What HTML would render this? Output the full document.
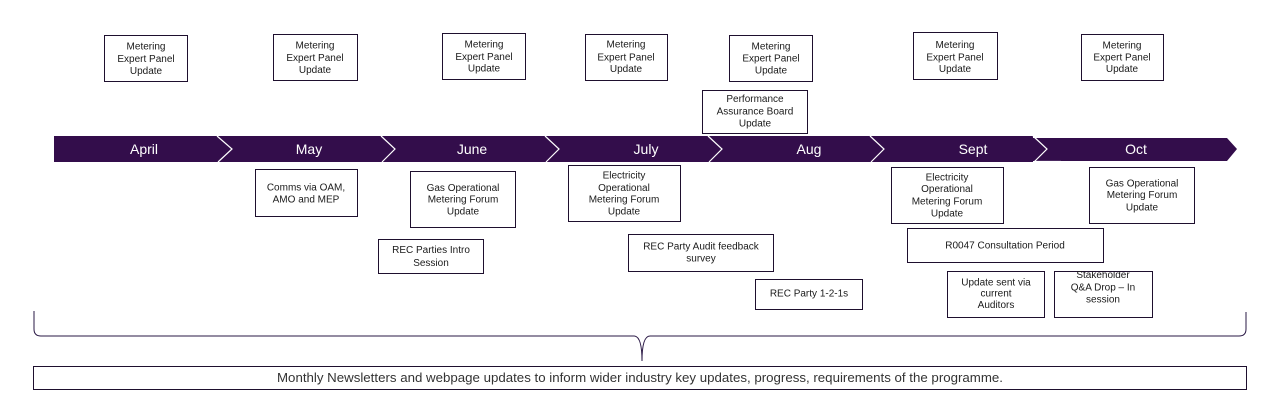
<!DOCTYPE html>
<html><head><meta charset="utf-8"><style>
html,body{margin:0;padding:0;background:#fff;}
svg{display:block;}
text{font-family:"Liberation Sans",sans-serif;}
.b{fill:#fff;stroke:#1e0f2e;stroke-width:1;}
.t{font-size:10px;fill:#1a1a1a;text-anchor:middle;}
.m{font-size:14px;fill:#fff;text-anchor:middle;}
</style></head><body>
<svg width="1265" height="411" viewBox="0 0 1265 411" xmlns="http://www.w3.org/2000/svg">
<!-- timeline bar -->
<polygon points="54,136 1033,136 1033,138 1227,138 1237,149 1227,161 1033,161 1033,162 54,162" fill="#330d4b"/>
<g fill="none" stroke="#fff" stroke-width="1.2">
<polyline points="217,136 232,149 218,162"/>
<polyline points="381,136 395,149 382,162"/>
<polyline points="545,136 559,149 546,162"/>
<polyline points="708,136 722,149 709,162"/>
<polyline points="870,136 884,149 871,162"/>
<polyline points="1033,136 1047,149 1034,162"/>
<line x1="1034" y1="161.5" x2="1061" y2="161.5"/>
</g>
<text class="m" x="144" y="154">April</text>
<text class="m" x="309" y="154">May</text>
<text class="m" x="472" y="154">June</text>
<text class="m" x="646" y="154">July</text>
<text class="m" x="809" y="154">Aug</text>
<text class="m" x="973" y="154">Sept</text>
<text class="m" x="1136" y="154">Oct</text>

<!-- top boxes -->
<rect class="b" x="104.5" y="35.5" width="83" height="46"/>
<text class="t" x="146" y="49.5">Metering</text><text class="t" x="146" y="62">Expert Panel</text><text class="t" x="146" y="74">Update</text>
<rect class="b" x="273.5" y="34.5" width="84" height="46"/>
<text class="t" x="315" y="48.5">Metering</text><text class="t" x="315" y="61">Expert Panel</text><text class="t" x="315" y="73">Update</text>
<rect class="b" x="442.5" y="33.5" width="83" height="46"/>
<text class="t" x="484" y="47.5">Metering</text><text class="t" x="484" y="60">Expert Panel</text><text class="t" x="484" y="71.5">Update</text>
<rect class="b" x="585.5" y="34.5" width="82" height="46"/>
<text class="t" x="626" y="47.5">Metering</text><text class="t" x="626" y="60.5">Expert Panel</text><text class="t" x="626" y="72">Update</text>
<rect class="b" x="729.5" y="35.5" width="83" height="46"/>
<text class="t" x="771" y="49.5">Metering</text><text class="t" x="771" y="61.5">Expert Panel</text><text class="t" x="771" y="73.5">Update</text>
<rect class="b" x="913.5" y="32.5" width="84" height="47"/>
<text class="t" x="955" y="48">Metering</text><text class="t" x="955" y="60.5">Expert Panel</text><text class="t" x="955" y="72">Update</text>
<rect class="b" x="1081.5" y="34.5" width="82" height="46"/>
<text class="t" x="1122" y="48.5">Metering</text><text class="t" x="1122" y="60.5">Expert Panel</text><text class="t" x="1122" y="72">Update</text>

<rect class="b" x="702.5" y="90.5" width="105" height="43"/>
<text class="t" x="755" y="102">Performance</text><text class="t" x="755" y="114.5">Assurance Board</text><text class="t" x="755" y="126.5">Update</text>

<!-- bottom boxes -->
<rect class="b" x="255.5" y="169.5" width="102" height="47"/>
<text class="t" x="306" y="190.5">Comms via OAM,</text><text class="t" x="306" y="202.5">AMO and MEP</text>

<rect class="b" x="410.5" y="171.5" width="105" height="56"/>
<text class="t" x="463" y="191">Gas Operational</text><text class="t" x="463" y="202.5">Metering Forum</text><text class="t" x="463" y="214.5">Update</text>

<rect class="b" x="378.5" y="239.5" width="105" height="34"/>
<text class="t" x="431" y="253">REC Parties Intro</text><text class="t" x="431" y="266">Session</text>

<rect class="b" x="568.5" y="165.5" width="112" height="56"/>
<text class="t" x="624" y="178.5">Electricity</text><text class="t" x="624" y="191">Operational</text><text class="t" x="624" y="202.5">Metering Forum</text><text class="t" x="624" y="214.5">Update</text>

<rect class="b" x="628.5" y="234.5" width="145" height="37"/>
<text class="t" x="701" y="249.5">REC Party Audit feedback</text><text class="t" x="701" y="261.5">survey</text>

<rect class="b" x="755.5" y="279.5" width="107" height="30"/>
<text class="t" x="809" y="296.5">REC Party 1-2-1s</text>

<rect class="b" x="891.5" y="167.5" width="112" height="56"/>
<text class="t" x="947" y="180.5">Electricity</text><text class="t" x="947" y="192">Operational</text><text class="t" x="947" y="204.5">Metering Forum</text><text class="t" x="947" y="216.5">Update</text>

<rect class="b" x="1089.5" y="167.5" width="105" height="56"/>
<text class="t" x="1142" y="186.5">Gas Operational</text><text class="t" x="1142" y="198">Metering Forum</text><text class="t" x="1142" y="210.5">Update</text>

<rect class="b" x="907.5" y="228.5" width="196" height="34"/>
<text class="t" x="1005" y="248.5">R0047 Consultation Period</text>

<rect class="b" x="947.5" y="271.5" width="97" height="46"/>
<text class="t" x="996" y="285.5">Update sent via</text><text class="t" x="996" y="296.5">current</text><text class="t" x="996" y="308">Auditors</text>

<rect class="b" x="1054.5" y="271.5" width="98" height="46"/>
<text class="t" x="1103" y="278">Stakeholder</text><text class="t" x="1103" y="290.5">Q&amp;A Drop – In</text><text class="t" x="1103" y="302.5">session</text>
<rect x="1055" y="265" width="97" height="6" fill="#fff"/>

<!-- brace -->
<path d="M34,311 L34,329 Q34,336 41,336 L634,336 Q642,336 642,361 Q642,336 650,336 L1239,336 Q1246,336 1246,329 L1246,312" fill="none" stroke="#2a1845" stroke-width="1"/>

<rect class="b" x="33.5" y="366.5" width="1213" height="23"/>
<text x="277" y="382" textLength="726" lengthAdjust="spacingAndGlyphs" style="font-size:13px;fill:#333;">Monthly Newsletters and webpage updates to inform wider industry key updates, progress, requirements of the programme.</text>
</svg>
</body></html>
